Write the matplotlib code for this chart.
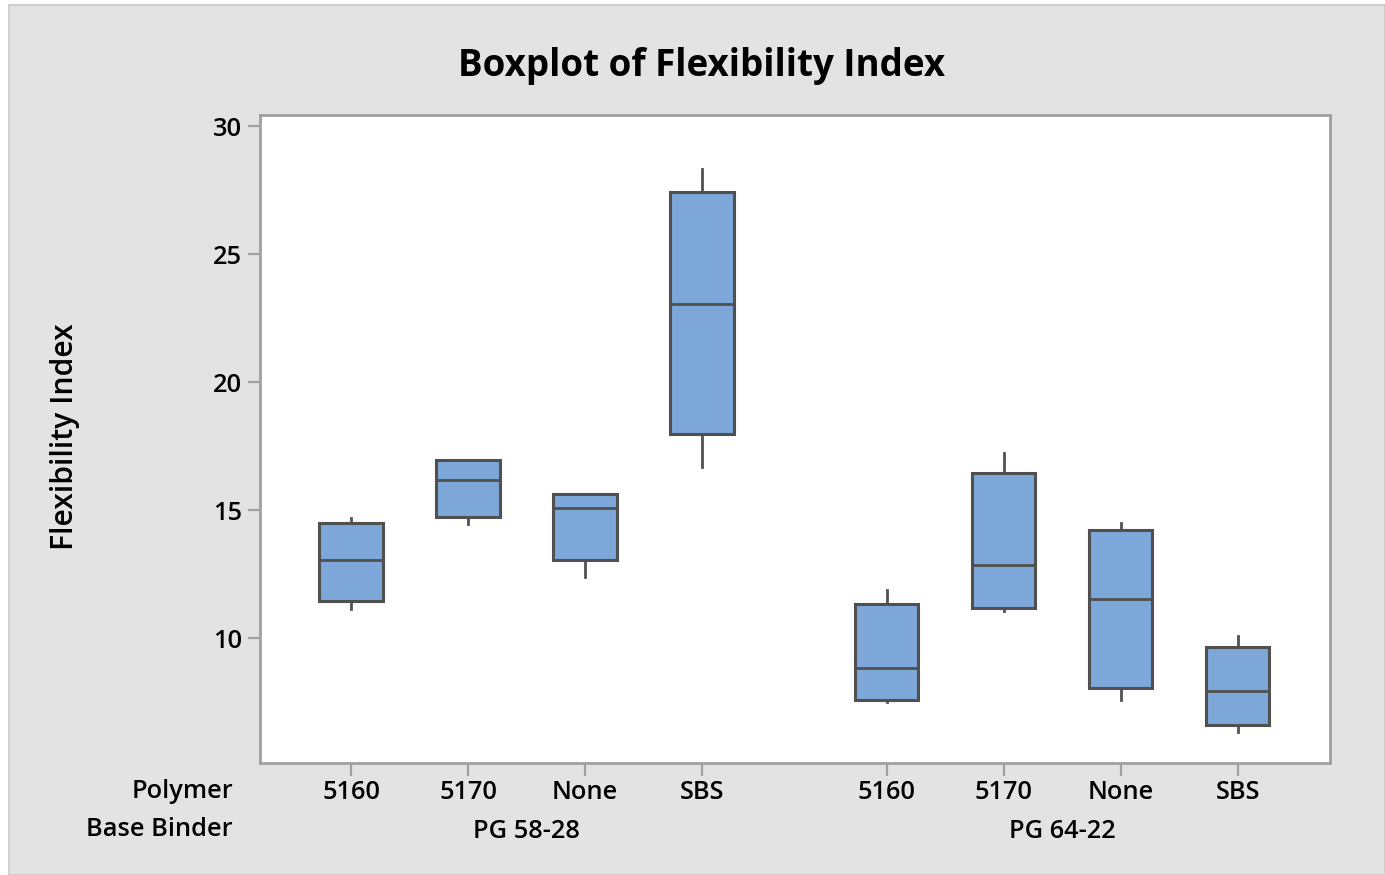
import matplotlib
matplotlib.use("Agg")
import matplotlib.pyplot as plt
from matplotlib.patches import Rectangle

plt.rcParams['font.family'] = ['Open Sans', 'DejaVu Sans']

# Data: five-number summaries per Polymer within each Base Binder
binders = ["PG 58-28", "PG 64-22"]
polymers = ["5160", "5170", "None", "SBS"]
whisker_low = [11.13, 14.45, 12.38, 16.69, 7.49, 11.05, 7.58, 6.32]
q1 = [11.43, 14.74, 13.05, 17.96, 7.60, 11.16, 8.04, 6.60]
median = [13.05, 16.17, 15.08, 23.05, 8.83, 12.85, 11.51, 7.94]
q3 = [14.48, 16.95, 15.63, 27.41, 11.33, 16.43, 14.21, 9.64]
whisker_high = [14.67, 16.95, 15.63, 28.32, 11.88, 17.24, 14.48, 10.09]

stats = []
for i in range(len(median)):
    stats.append(dict(whislo=whisker_low[i], q1=q1[i], med=median[i],
                      q3=q3[i], whishi=whisker_high[i], fliers=[]))

group_gap = 0.58
positions = []
for g in range(len(binders)):
    for p in range(len(polymers)):
        positions.append(1 + p + g * (len(polymers) + group_gap))

fig = plt.figure(figsize=(13.85, 8.75), dpi=100, facecolor="white")
# grey panel behind everything
fig.patches.append(Rectangle((9 / 1385, 0), 1 - 9 / 1385, 1 - 5 / 875,
                             transform=fig.transFigure, facecolor="#e3e3e3",
                             edgecolor="#c8c8c8", linewidth=1.2, zorder=0))

ax = fig.add_axes([260 / 1385, 1 - 763 / 875, (1330 - 260) / 1385, (763 - 115) / 875])
ax.set_zorder(2)
ax.set_facecolor("white")

edge = "#505050"
ax.bxp(stats, positions=positions, widths=0.54, patch_artist=True,
       showcaps=False,
       boxprops=dict(facecolor="#7ca7d8", edgecolor=edge, linewidth=2.2),
       medianprops=dict(color=edge, linewidth=2.0),
       whiskerprops=dict(color=edge, linewidth=2.0))

ax.set_xlim(0.222, 9.368)
ax.set_ylim(5.12, 30.43)
ax.set_yticks([10, 15, 20, 25, 30])
ax.set_xticks(positions)
ax.set_xticklabels([])

fs = 18.3
wt = "semibold"
for s in ax.spines.values():
    s.set_color("#a0a0a0")
    s.set_linewidth(2)
ax.tick_params(axis="both", direction="out", length=9, width=1.6, color="#a0a0a0",
               labelsize=fs, labelcolor="black")
ax.tick_params(axis="y", pad=4)
for lab in ax.get_yticklabels():
    lab.set_fontweight(wt)

# category rows below the axis
trans = ax.get_xaxis_transform()
for i, pos in enumerate(positions):
    ax.text(pos, -0.045, polymers[i % len(polymers)], transform=trans,
            ha="center", va="center", fontsize=fs, fontweight=wt)
for g, name in enumerate(binders):
    first = positions[g * len(polymers)]
    last = positions[(g + 1) * len(polymers) - 1]
    ax.text((first + last) / 2, -0.105, name, transform=trans,
            ha="center", va="center", fontsize=fs, fontweight=wt)

fig.text(233 / 1385, 1 - 791 / 875, "Polymer", ha="right", va="center",
         fontsize=fs, fontweight=wt)
fig.text(233 / 1385, 1 - 830 / 875, "Base Binder", ha="right", va="center",
         fontsize=fs, fontweight=wt)

fig.text(702 / 1385, 1 - 66 / 875, "Boxplot of Flexibility Index", ha="center",
         va="center", fontsize=26.5, fontweight="bold")
fig.text(65 / 1385, 1 - 437 / 875, "Flexibility Index", ha="center", va="center",
         rotation=90, fontsize=21.7, fontweight=wt)

fig.savefig("out.png", dpi=100, facecolor="white")
